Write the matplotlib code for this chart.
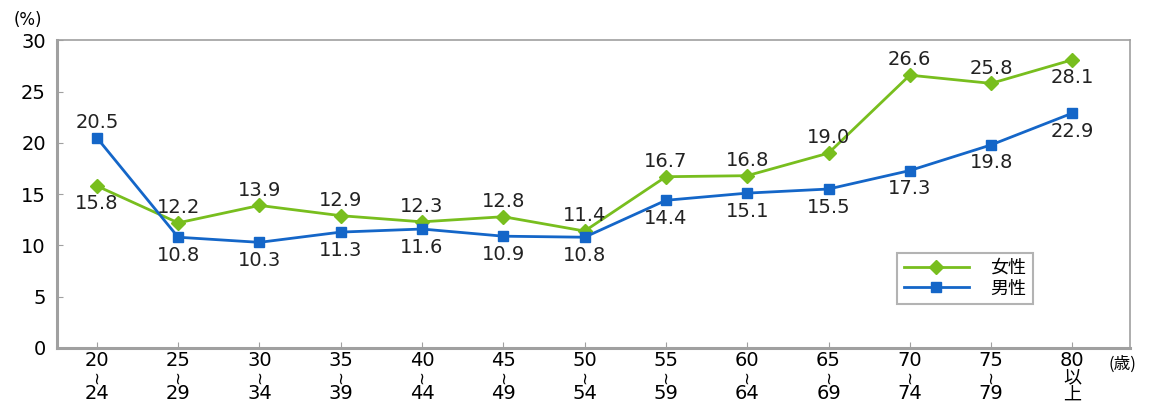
import matplotlib
matplotlib.use('Agg')
import matplotlib.pyplot as plt

plt.rcParams['font.family'] = ['DejaVu Sans', 'Noto Sans CJK JP']

# age groups (start, end)
age_from = ['20', '25', '30', '35', '40', '45', '50', '55', '60', '65', '70', '75', '80']
age_to = ['24', '29', '34', '39', '44', '49', '54', '59', '64', '69', '74', '79', None]

female = [15.8, 12.2, 13.9, 12.9, 12.3, 12.8, 11.4, 16.7, 16.8, 19.0, 26.6, 25.8, 28.1]
male = [20.5, 10.8, 10.3, 11.3, 11.6, 10.9, 10.8, 14.4, 15.1, 15.5, 17.3, 19.8, 22.9]

# which labels go below (female) / above (male)
female_below = [0, 12]
male_above = [0]

green = '#78BE1E'
blue = '#1466C8'
grey = '#A0A0A0'
fs = 14

fig = plt.figure(figsize=(11.52, 4.03), dpi=100)
ax = fig.add_axes([0.0495, 0.1365, 0.9315, 0.7635])

x = list(range(len(age_from)))
ax.plot(x, female, color=green, lw=2, marker='D', ms=7, label='女性')
ax.plot(x, male, color=blue, lw=2, marker='s', ms=7, label='男性')

for i, v in enumerate(female):
    dy = -13 if i in female_below else 11
    ax.annotate(f'{v:.1f}', (i, v), xytext=(0, dy), textcoords='offset points',
                ha='center', va='center', fontsize=fs, color='#222222')
for i, v in enumerate(male):
    dy = 11 if i in male_above else -13
    ax.annotate(f'{v:.1f}', (i, v), xytext=(0, dy), textcoords='offset points',
                ha='center', va='center', fontsize=fs, color='#222222')

ax.set_xlim(-0.49, 12.71)
ax.set_ylim(0, 30)
ax.set_yticks(range(0, 31, 5))
ax.set_yticklabels([str(v) for v in range(0, 31, 5)], fontsize=fs)
ax.set_xticks(x)
ax.set_xticklabels([])
ax.tick_params(direction='in', length=4, color=grey, pad=8)

# stacked x labels
tr = ax.get_xaxis_transform()
for i, (a, b) in enumerate(zip(age_from, age_to)):
    ax.text(i, -0.04, a, transform=tr, ha='center', va='center', fontsize=fs)
    if b is None:
        ax.text(i, -0.095, '以', transform=tr, ha='center', va='center',
                fontsize=13, family='Noto Sans CJK JP')
        ax.text(i, -0.15, '上', transform=tr, ha='center', va='center',
                fontsize=13, family='Noto Sans CJK JP')
    else:
        ax.text(i, -0.094, '~', transform=tr, ha='center', va='center', fontsize=12,
                rotation=90)
        ax.text(i, -0.148, b, transform=tr, ha='center', va='center', fontsize=fs)

for s in ['left', 'bottom']:
    ax.spines[s].set_color(grey)
    ax.spines[s].set_linewidth(2.2)
for s in ['top', 'right']:
    ax.spines[s].set_color(grey)
    ax.spines[s].set_linewidth(1.2)

fig.text(0.012, 0.95, '(%)', fontsize=12, ha='left', va='center')
fig.text(0.962, 0.095, '(歳)', fontsize=12, ha='left', va='center',
         family=['Noto Sans CJK JP'])

leg = ax.legend(loc='lower left', bbox_to_anchor=(0.783, 0.143), borderaxespad=0,
                prop={'family': 'Noto Sans CJK JP', 'size': 13},
                fancybox=False, edgecolor=grey, handlelength=3.6, borderpad=0.35,
                labelspacing=0.15, handletextpad=1.2)
leg.get_frame().set_linewidth(1.5)

fig.savefig('out.png', dpi=100)
